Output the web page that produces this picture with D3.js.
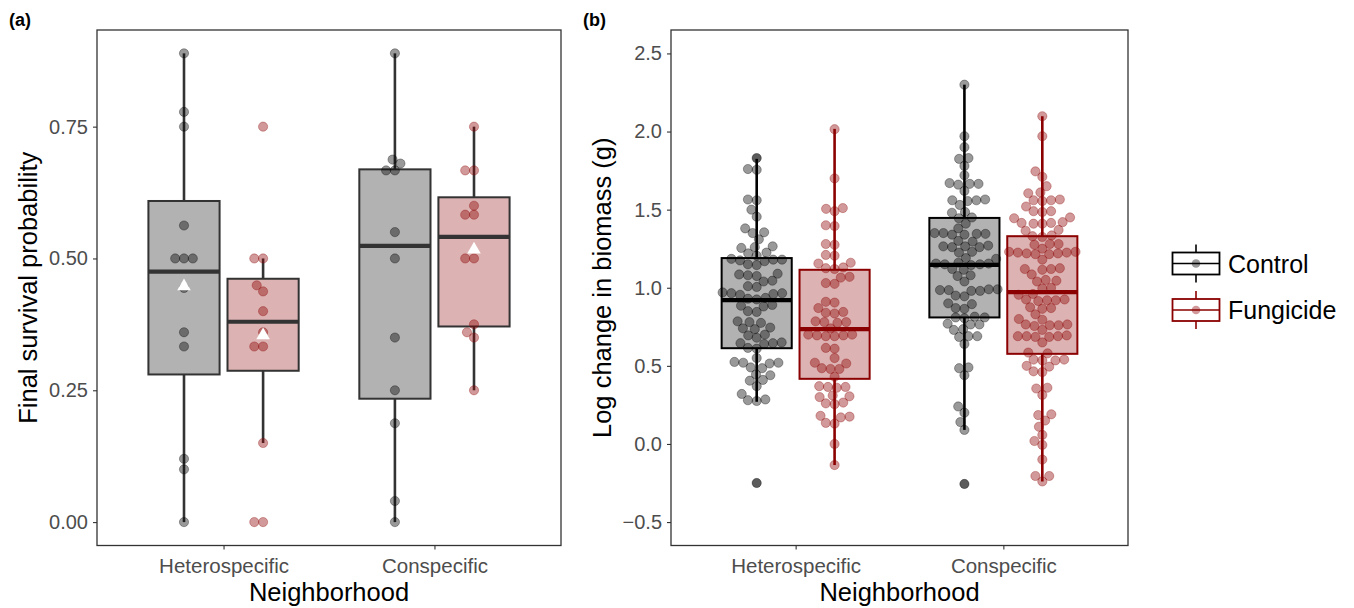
<!DOCTYPE html>
<html><head><meta charset="utf-8">
<script src="https://cdn.jsdelivr.net/npm/d3@7"></script>
<style>body{margin:0;background:#fff} text{font-family:"Liberation Sans",Arial,Helvetica,sans-serif}</style>
</head><body><svg id="c" width="1354" height="608"></svg>
<script>
// ---------------- data ----------------
const neighborhoods = ["Heterospecific", "Conspecific"];
const treatments = ["Control", "Fungicide"];
const survTicks = [0, 0.25, 0.5, 0.75];
const bioTicks = [-0.5, 0, 0.5, 1, 1.5, 2, 2.5];

// (a) final survival probability, per group
const survHetControl = [0.889, 0.778, 0.75, 0.5625, 0.5, 0.5, 0.5, 0.444, 0.36, 0.333, 0.12, 0.1, 0];
const survHetFungicide = [0.75, 0.5, 0.5, 0.449, 0.4375, 0.40, 0.36, 0.333, 0.333, 0.15, 0, 0];
const survConControl = [0.889, 0.6875, 0.68, 0.667, 0.667, 0.55, 0.5, 0.35, 0.25, 0.1875, 0.04, 0];
const survConFungicide = [0.75, 0.667, 0.667, 0.6, 0.583, 0.583, 0.5, 0.5, 0.375, 0.36, 0.35, 0.25];
// box summaries, order: Het-Control, Het-Fungicide, Con-Control, Con-Fungicide
const survLow = [0, 0.15, 0, 0.25];
const survQ1 = [0.280, 0.287, 0.234, 0.371];
const survMedian = [0.475, 0.380, 0.524, 0.541];
const survQ3 = [0.609, 0.4615, 0.669, 0.616];
const survHigh = [0.889, 0.5, 0.889, 0.75];
const survMean = [0.447, 0.354, null, 0.517];

// (b) log change in biomass (g), per group
const bioHetControl = [1.83, 1.76, 1.755, 1.565, 1.56, 1.50, 1.455, 1.38, 1.355, 1.35, 1.31, 1.265, 1.26, 1.255, 1.225, 1.22, 1.205, 1.185, 1.18, 1.18, 1.175, 1.17, 1.15, 1.145, 1.09, 1.085, 1.08, 1.075, 1.045, 1.04, 1.01, 1.005, 0.97, 0.965, 0.965, 0.96, 0.955, 0.935, 0.93, 0.925, 0.89, 0.885, 0.88, 0.85, 0.845, 0.785, 0.78, 0.775, 0.745, 0.74, 0.735, 0.70, 0.695, 0.68, 0.65, 0.645, 0.645, 0.64, 0.615, 0.61, 0.55, 0.525, 0.52, 0.52, 0.515, 0.49, 0.485, 0.445, 0.44, 0.41, 0.405, 0.37, 0.32, 0.285, 0.28, 0.275, -0.25];
const bioHetFungicide = [2.015, 1.70, 1.51, 1.505, 1.49, 1.40, 1.395, 1.28, 1.275, 1.21, 1.205, 1.16, 1.155, 1.13, 1.125, 1.12, 1.07, 1.065, 1.03, 1.025, 0.91, 0.905, 0.87, 0.845, 0.84, 0.835, 0.785, 0.78, 0.78, 0.775, 0.74, 0.70, 0.70, 0.695, 0.695, 0.69, 0.69, 0.615, 0.61, 0.55, 0.52, 0.515, 0.485, 0.48, 0.48, 0.43, 0.37, 0.365, 0.365, 0.36, 0.31, 0.305, 0.30, 0.265, 0.26, 0.255, 0.18, 0.175, 0.17, 0.135, 0.13, 0.0, -0.135];
const bioConControl = [2.30, 1.97, 1.90, 1.83, 1.825, 1.78, 1.72, 1.67, 1.665, 1.665, 1.66, 1.62, 1.565, 1.56, 1.56, 1.555, 1.53, 1.485, 1.48, 1.45, 1.445, 1.41, 1.38, 1.35, 1.35, 1.345, 1.345, 1.34, 1.34, 1.30, 1.295, 1.27, 1.265, 1.265, 1.26, 1.26, 1.23, 1.225, 1.19, 1.185, 1.16, 1.155, 1.155, 1.15, 1.15, 1.145, 1.12, 1.115, 1.08, 1.075, 1.04, 0.99, 0.99, 0.985, 0.985, 0.98, 0.98, 0.95, 0.945, 0.90, 0.895, 0.87, 0.865, 0.815, 0.81, 0.81, 0.805, 0.77, 0.765, 0.765, 0.735, 0.73, 0.69, 0.69, 0.685, 0.64, 0.49, 0.485, 0.44, 0.24, 0.20, 0.14, 0.09, -0.256];
const bioConFungicide = [2.098, 1.97, 1.745, 1.71, 1.65, 1.61, 1.605, 1.565, 1.56, 1.56, 1.555, 1.52, 1.49, 1.49, 1.485, 1.45, 1.445, 1.42, 1.415, 1.415, 1.41, 1.41, 1.37, 1.365, 1.335, 1.33, 1.325, 1.28, 1.28, 1.275, 1.25, 1.23, 1.23, 1.225, 1.225, 1.22, 1.22, 1.215, 1.215, 1.18, 1.125, 1.12, 1.12, 1.115, 1.085, 1.05, 1.045, 1.04, 1.0, 0.995, 0.96, 0.955, 0.925, 0.925, 0.92, 0.92, 0.915, 0.875, 0.87, 0.865, 0.83, 0.80, 0.795, 0.765, 0.765, 0.76, 0.76, 0.755, 0.73, 0.695, 0.69, 0.69, 0.69, 0.685, 0.685, 0.65, 0.585, 0.58, 0.54, 0.54, 0.535, 0.535, 0.50, 0.495, 0.465, 0.46, 0.36, 0.355, 0.314, 0.19, 0.185, 0.15, 0.11, 0.058, 0.019, -0.006, -0.10, -0.205, -0.205, -0.24];
const bioLow = [0.27, -0.135, 0.09, -0.24];
const bioQ1 = [0.613, 0.417, 0.81, 0.577];
const bioMedian = [0.921, 0.735, 1.147, 0.972];
const bioQ3 = [1.19, 1.115, 1.447, 1.33];
const bioHigh = [1.825, 2.017, 2.30, 2.098];

// ---------------- drawing ----------------
const svg = d3.select("#c");
const FONT = '"Liberation Sans",Arial,Helvetica,sans-serif';
const colors = {Control: "#000000", Fungicide: "#8B0000"};
const fills = {Control: "rgba(0,0,0,0.3)", Fungicide: "rgba(139,0,0,0.3)"};
const ptFill = {Control: "rgba(0,0,0,0.4)", Fungicide: "rgba(139,0,0,0.4)"};

function swarm(vals, y, d) {
  const items = vals.map((v, i) => ({v, y: y(v), i})).sort((a, b) => a.v - b.v);
  const placed = [];
  for (const it of items) {
    const c = [0];
    for (const p of placed) {
      const dy = Math.abs(p.y - it.y);
      if (dy < d) { const o = Math.sqrt(d * d - dy * dy); c.push(p.dx + o, p.dx - o); }
    }
    c.sort((a, b) => Math.abs(a) - Math.abs(b) || a - b);
    for (const x of c) {
      let ok = true;
      for (const p of placed) {
        const dx = p.dx - x, dy = p.y - it.y;
        if (dx * dx + dy * dy < d * d - 1e-6) { ok = false; break; }
      }
      if (ok) { it.dx = x; break; }
    }
    placed.push(it);
  }
  return items;
}

function panel(cfg) {
  const {left, right, top, bottom, domain, ticks, fmt, groups, stats, boxStroke, showOutliers, ytitle, ytitleX, tag, tagX} = cfg;
  const g = svg.append("g");
  const x = d3.scalePoint().domain(neighborhoods).range([left, right]).padding(0.6);
  const step = x.step();
  const y = d3.scaleLinear().domain(domain).range([bottom, top]);
  const dodge = 0.375 * step, bw = 0.3375 * step;

  // axes
  const ya = g.append("g").attr("transform", `translate(${left},0)`)
    .call(d3.axisLeft(y).tickValues(ticks).tickFormat(d3.format(fmt)).tickSize(4).tickPadding(5));
  ya.select(".domain").remove();
  ya.selectAll("line").attr("stroke", "#333").attr("stroke-width", 1.1);
  ya.selectAll("text").attr("fill", "#4d4d4d").style("font-size", "20px").style("font-family", FONT);
  const xa = g.append("g").attr("transform", `translate(0,${bottom})`)
    .call(d3.axisBottom(x).tickSize(4).tickPadding(5));
  xa.select(".domain").remove();
  xa.selectAll("line").attr("stroke", "#333").attr("stroke-width", 1.1);
  xa.selectAll("text").attr("fill", "#4d4d4d").style("font-size", "20.5px").style("font-family", FONT).attr("dy", "0.9em");

  // boxes
  groups.forEach((gr, k) => {
    const cx = x(gr.nb) + (gr.tr === "Control" ? -dodge / 2 : dodge / 2);
    const sc = boxStroke || colors[gr.tr];
    const bg = g.append("g");
    bg.append("line").attr("x1", cx).attr("x2", cx).attr("y1", y(stats.q3[k])).attr("y2", y(stats.hi[k]))
      .attr("stroke", sc).attr("stroke-width", 2.6);
    bg.append("line").attr("x1", cx).attr("x2", cx).attr("y1", y(stats.q1[k])).attr("y2", y(stats.lo[k]))
      .attr("stroke", sc).attr("stroke-width", 2.6);
    bg.append("rect").attr("x", cx - bw / 2).attr("width", bw).attr("y", y(stats.q3[k]))
      .attr("height", y(stats.q1[k]) - y(stats.q3[k])).attr("fill", fills[gr.tr]).attr("stroke", sc).attr("stroke-width", 2);
    bg.append("line").attr("x1", cx - bw / 2).attr("x2", cx + bw / 2).attr("y1", y(stats.med[k])).attr("y2", y(stats.med[k]))
      .attr("stroke", sc).attr("stroke-width", 4.2);
    gr.cx = cx;
  });
  // points
  groups.forEach((gr, k) => {
    const pts = swarm(gr.vals, y, 8.8);
    if (showOutliers) {
      g.append("g").selectAll("circle").data(gr.vals.filter(v => v < stats.lo[k] - 1e-9 || v > stats.hi[k] + 1e-9)).join("circle")
        .attr("cx", gr.cx).attr("cy", d => y(d)).attr("r", 4.7).attr("fill", ptFill[gr.tr]);
    }
    g.append("g").selectAll("circle").data(pts).join("circle")
      .attr("cx", d => gr.cx + d.dx).attr("cy", d => d.y).attr("r", 4.6)
      .attr("fill", ptFill[gr.tr]).attr("stroke", ptFill[gr.tr]).attr("stroke-width", 0.8);
  });
  // means
  if (stats.mean) {
    groups.forEach((gr, k) => {
      if (stats.mean[k] == null) return;
      g.append("path").attr("d", d3.symbol(d3.symbolTriangle, 80)())
        .attr("transform", `translate(${gr.cx},${y(stats.mean[k])})`).attr("fill", "#fff");
    });
  }
  // frame
  g.append("rect").attr("x", left).attr("y", top).attr("width", right - left).attr("height", bottom - top)
    .attr("fill", "none").attr("stroke", "#333").attr("stroke-width", 1.3);
  // titles
  g.append("text").attr("x", (left + right) / 2).attr("y", 601).attr("text-anchor", "middle")
    .style("font-size", "25.5px").attr("fill", "#000").text("Neighborhood");
  g.append("text").attr("transform", `translate(${ytitleX},${(top + bottom) / 2}) rotate(-90)`)
    .attr("text-anchor", "middle").style("font-size", "25.5px").attr("fill", "#000").text(ytitle);
  g.append("text").attr("x", tagX).attr("y", 26).style("font-size", "18px").style("font-weight", "bold").text(tag);
}

const order = [["Heterospecific", "Control"], ["Heterospecific", "Fungicide"], ["Conspecific", "Control"], ["Conspecific", "Fungicide"]];
const survVals = [survHetControl, survHetFungicide, survConControl, survConFungicide];
const bioVals = [bioHetControl, bioHetFungicide, bioConControl, bioConFungicide];

panel({left: 97, right: 561, top: 30, bottom: 545.5, domain: [-0.0444, 0.9333], ticks: survTicks, fmt: ".2f",
  groups: order.map((o, i) => ({nb: o[0], tr: o[1], vals: survVals[i]})),
  stats: {lo: survLow, q1: survQ1, med: survMedian, q3: survQ3, hi: survHigh, mean: survMean},
  boxStroke: "#333333", showOutliers: false, ytitle: "Final survival probability", ytitleX: 37, tag: "(a)", tagX: 9});

panel({left: 671, right: 1128, top: 30, bottom: 545.5, domain: [-0.65, 2.65], ticks: bioTicks, fmt: ".1f",
  groups: order.map((o, i) => ({nb: o[0], tr: o[1], vals: bioVals[i]})),
  stats: {lo: bioLow, q1: bioQ1, med: bioMedian, q3: bioQ3, hi: bioHigh},
  boxStroke: null, showOutliers: true, ytitle: "Log change in biomass (g)", ytitleX: 611, tag: "(b)", tagX: 583});

// legend
const lg = svg.append("g");
treatments.forEach((t, i) => {
  const cy = 263.5 + i * 46.5, c = colors[t];
  const k = lg.append("g");
  k.append("line").attr("x1", 1196).attr("x2", 1196).attr("y1", cy - 19).attr("y2", cy + 19).attr("stroke", c).attr("stroke-width", 1.6);
  k.append("rect").attr("x", 1172.5).attr("y", cy - 11).attr("width", 47).attr("height", 22).attr("fill", "#fff").attr("stroke", c).attr("stroke-width", 1.8);
  k.append("line").attr("x1", 1172.5).attr("x2", 1219.5).attr("y1", cy).attr("y2", cy).attr("stroke", c).attr("stroke-width", 1.6);
  k.append("circle").attr("cx", 1196).attr("cy", cy).attr("r", 4.3).attr("fill", ptFill[t]);
  lg.append("text").attr("x", 1228).attr("y", cy + 9).style("font-size", "25px").attr("fill", "#000").text(t);
});
</script></body></html>
